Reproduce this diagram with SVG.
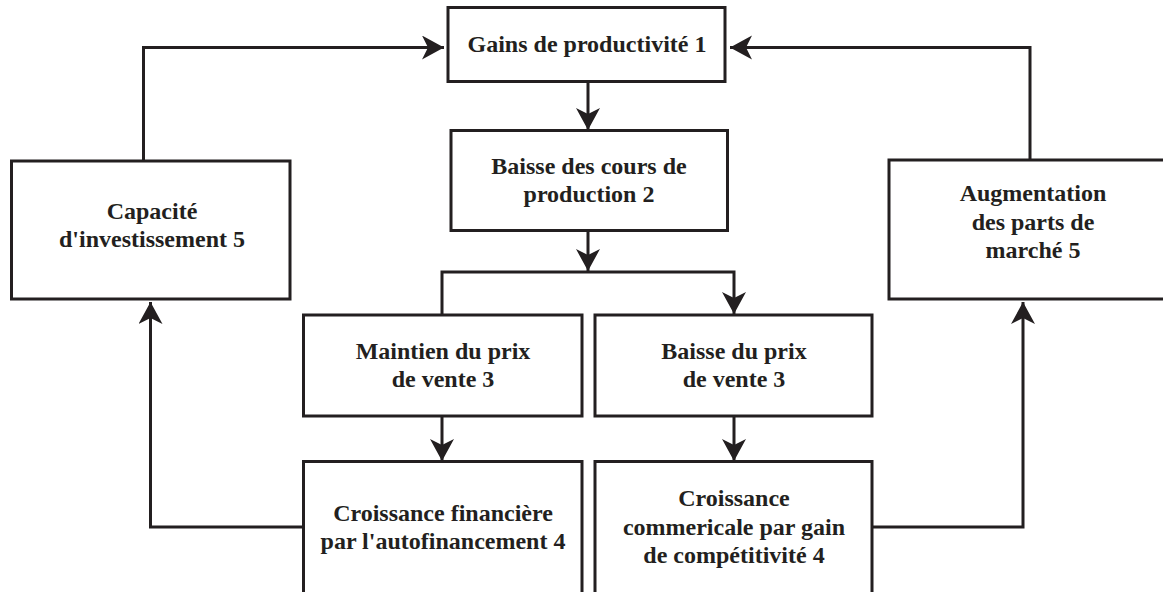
<svg xmlns="http://www.w3.org/2000/svg" width="1163" height="592" viewBox="0 0 1163 592">
<style>
.box{fill:#fff;stroke:#231f20;stroke-width:3}
.c{fill:none;stroke:#231f20;stroke-width:3}
.t{font-family:'Liberation Serif',Tinos,'DejaVu Serif',serif;font-weight:700;font-size:24px;fill:#231f20;text-anchor:middle}
</style>
<defs>
<marker id="ah" markerUnits="userSpaceOnUse" markerWidth="24" markerHeight="26" viewBox="0 0 24 26" refX="22" refY="12" orient="auto">
<path d="M0,0 L22,12 L0,24 L6,12 Z" fill="#231f20"/>
</marker>
</defs>
<g id="connectors">
<path class="c" d="M143.5,161 V47.5 H444" marker-end="url(#ah)"/>
<path class="c" d="M1030,160 V47.5 H730" marker-end="url(#ah)"/>
<path class="c" d="M588,82 V130" marker-end="url(#ah)"/>
<path class="c" d="M588,231 V271" marker-end="url(#ah)"/>
<path class="c" d="M442,314 V272 H734 V314" marker-end="url(#ah)"/>
<path class="c" d="M442,416 V461" marker-end="url(#ah)"/>
<path class="c" d="M734,416 V461" marker-end="url(#ah)"/>
<path class="c" d="M303.5,527 H150.5 V302" marker-end="url(#ah)"/>
<path class="c" d="M872,527 H1023 V302" marker-end="url(#ah)"/>
</g>
<g id="n1"><rect class="box" x="448" y="7.5" width="277" height="74"/><text class="t" x="587" y="52">Gains de productivité 1</text></g>
<g id="n2"><rect class="box" x="451" y="130.5" width="276.5" height="100"/><text class="t" x="589" y="174">Baisse des cours de</text><text class="t" x="589" y="202">production 2</text></g>
<g id="n5a"><rect class="box" x="11.5" y="161" width="278.5" height="138"/><text class="t" x="152" y="219">Capacité</text><text class="t" x="152" y="247">d'investissement 5</text></g>
<g id="n5b"><rect class="box" x="889" y="160" width="285" height="139"/><text class="t" x="1033" y="201">Augmentation</text><text class="t" x="1033" y="230">des parts de</text><text class="t" x="1033" y="258">marché 5</text></g>
<g id="n3a"><rect class="box" x="303.5" y="315" width="278.5" height="101"/><text class="t" x="443" y="359">Maintien du prix</text><text class="t" x="443" y="387">de vente 3</text></g>
<g id="n3b"><rect class="box" x="595" y="315" width="277" height="101"/><text class="t" x="734" y="359">Baisse du prix</text><text class="t" x="734" y="387">de vente 3</text></g>
<g id="n4a"><rect class="box" x="303.5" y="461.5" width="278.5" height="140"/><text class="t" x="443" y="521">Croissance financière</text><text class="t" x="443" y="549">par l'autofinancement 4</text></g>
<g id="n4b"><rect class="box" x="595" y="461.5" width="277" height="140"/><text class="t" x="734" y="506">Croissance</text><text class="t" x="734" y="535">commericale par gain</text><text class="t" x="734" y="563">de compétitivité 4</text></g>
</svg>
